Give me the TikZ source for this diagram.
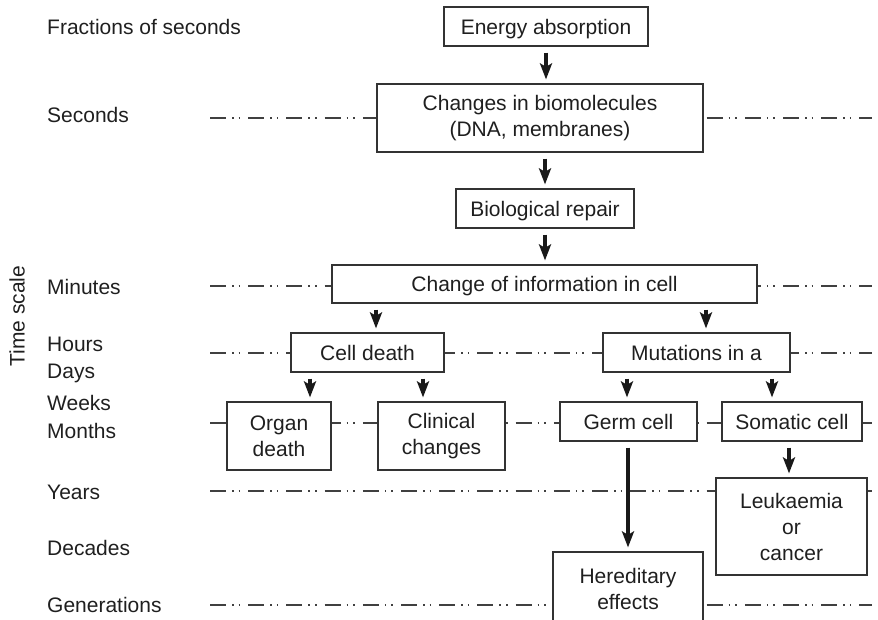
\documentclass[tikz,border=0pt]{standalone}
\usepackage{fontspec}
\setmainfont{Liberation Sans}
\usetikzlibrary{arrows.meta}
\begin{document}
\begin{tikzpicture}[x=1pt,y=-1pt,
  lbl/.style={anchor=base west, inner sep=0pt, font=\fontsize{21}{26}\selectfont, text=black!88},
  stagebox/.style={draw=black!80, line width=1.2pt, fill=white, inner sep=0pt, align=center,
                   font=\fontsize{21}{26}\selectfont, text=black!88},
  oneline/.style={text height=15pt, text depth=0pt},
  ruler/.style={draw=black!75, line width=1.2pt,
                dash pattern=on 16pt off 6pt on 1.6pt off 5pt on 1.6pt off 8pt},
  flow/.style={draw=black!90, line width=3.2pt, -{Stealth[length=16pt,width=12pt,inset=3.5pt]},
               shorten <=6pt, shorten >=4pt},
  heavyflow/.style={flow, line width=4.5pt}]

\useasboundingbox (0,0) rectangle (878,619);
\clip (0,0) rectangle (878,619);

% time scale labels
\node[lbl] (tFrac) at (47,34.5)  {Fractions of seconds};
\node[lbl] (tSec)  at (47,122)   {Seconds};
\node[lbl] (tMin)  at (47,294.5) {Minutes};
\node[lbl] (tHour) at (47,351.5) {Hours};
\node[lbl] (tDay)  at (47,378.5) {Days};
\node[lbl] (tWeek) at (47,410.5) {Weeks};
\node[lbl] (tMon)  at (47,438.5) {Months};
\node[lbl] (tYear) at (47,499.5) {Years};
\node[lbl] (tDec)  at (47,555.5) {Decades};
\node[lbl] (tGen)  at (47,612.5) {Generations};
\node[rotate=90, inner sep=0pt, font=\fontsize{21}{26}\selectfont, text=black!88] (tAxis) at (17,316) {Time scale};

% horizontal time rulers (drawn first, boxes cover them)
\coordinate (rSecL) at (210,118);  \coordinate (rSecR) at (872,118);
\coordinate (rMinL) at (210,286);  \coordinate (rMinR) at (872,286);
\coordinate (rHouL) at (210,353);  \coordinate (rHouR) at (872,353);
\coordinate (rMonL) at (210,423);  \coordinate (rMonR) at (872,423);
\coordinate (rYeaL) at (210,491);  \coordinate (rYeaR) at (872,491);
\coordinate (rGenL) at (210,605);  \coordinate (rGenR) at (872,605);
\foreach \r in {Sec,Min,Hou,Mon,Yea,Gen}
  \draw[ruler] (r\r L) -- (r\r R);

% process boxes
\node[stagebox, oneline, minimum width=204pt, minimum height=39pt] (energy)  at (546,26.5)  {Energy absorption};
\node[stagebox, minimum width=326pt, minimum height=68pt] (changes) at (540,118)   {Changes in biomolecules\\(DNA, membranes)};
\node[stagebox, oneline, minimum width=178pt, minimum height=39pt] (repair)  at (545,208.5) {Biological repair};
\node[stagebox, oneline, minimum width=425pt, minimum height=38pt] (info)    at (544.5,284) {Change of information in cell};
\node[stagebox, oneline, minimum width=153pt, minimum height=39pt] (death)   at (367.5,352.5) {Cell death};
\node[stagebox, oneline, minimum width=187pt, minimum height=39pt] (mut)     at (696.5,352.5) {Mutations in a};
\node[stagebox, minimum width=104pt, minimum height=68pt] (organ)   at (279,436)   {Organ\\death};
\node[stagebox, minimum width=127pt, minimum height=68pt] (clinic)  at (441.5,436) {Clinical\\changes};
\node[stagebox, oneline, minimum width=137pt, minimum height=39pt] (germ)    at (628.5,421.5) {Germ cell};
\node[stagebox, oneline, minimum width=140pt, minimum height=39pt] (somatic) at (792,421.5)  {Somatic cell};
\node[stagebox, minimum width=151pt, minimum height=97pt] (leuk)    at (791.5,526.5) {Leukaemia\\or\\cancer};
\node[stagebox, minimum width=150pt, minimum height=74pt] (hered)   at (628,589)   {Hereditary\\effects};

% arrow columns
\coordinate (cDeath)  at ([xshift=8.5pt]death.north);
\coordinate (cMut)    at ([xshift=9.5pt]mut.north);
\coordinate (cOrgan)  at ([xshift=31pt]organ.north);
\coordinate (cClinic) at ([xshift=-18.5pt]clinic.north);
\coordinate (cGerm)   at ([xshift=-1.5pt]germ.north);
\coordinate (cSoma)   at ([xshift=-20pt]somatic.north);
\coordinate (cLeuk)   at ([xshift=-2.5pt]leuk.north);
\coordinate (cHered)  at (hered.north);

% arrows
\draw[flow] (energy.south) -- (changes.north -| energy.south);
\draw[flow] (changes.south -| repair.north) -- (repair.north);
\draw[flow] (repair.south) -- (info.north -| repair.south);
\draw[flow] (cDeath |- info.south) -- (cDeath);
\draw[flow] (cMut |- info.south) -- (cMut);
\draw[flow] (cOrgan |- death.south) -- (cOrgan);
\draw[flow] (cClinic |- death.south) -- (cClinic);
\draw[flow] (cGerm |- mut.south) -- (cGerm);
\draw[flow] (cSoma |- mut.south) -- (cSoma);
\draw[flow] (cLeuk |- somatic.south) -- (cLeuk);
\draw[heavyflow] (germ.south -| cHered) -- (cHered);
\end{tikzpicture}
\end{document}
